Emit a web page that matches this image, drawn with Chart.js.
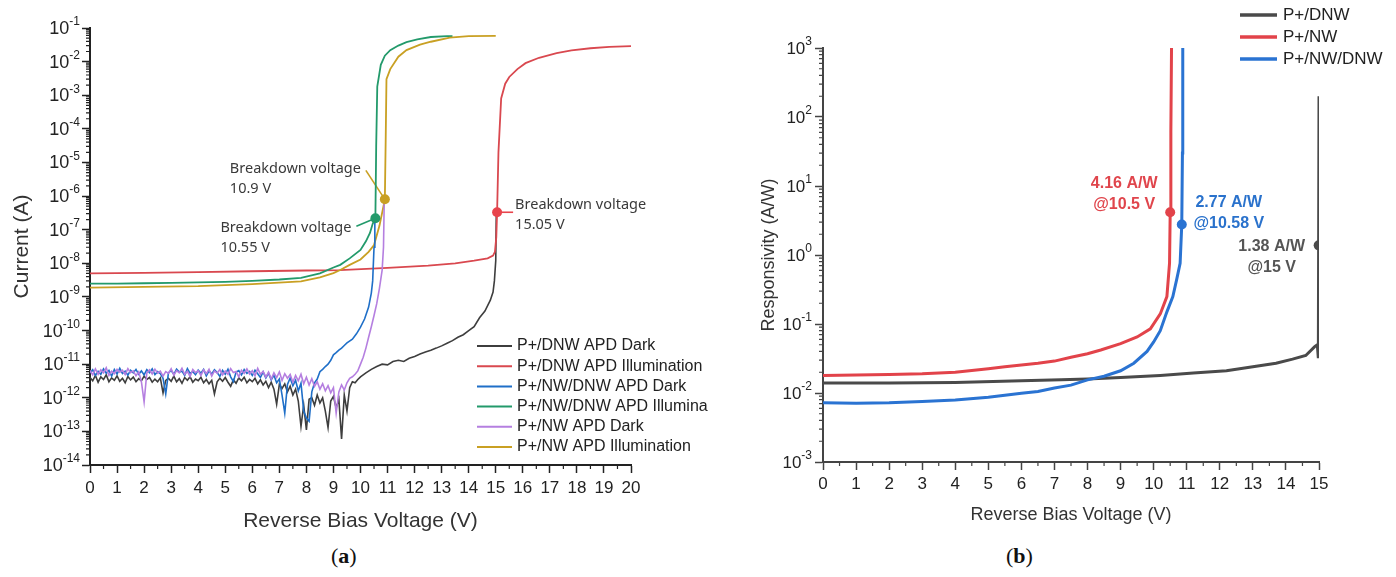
<!DOCTYPE html>
<html>
<head>
<meta charset="utf-8">
<script src="https://cdn.jsdelivr.net/npm/chart.js@4.4.1/dist/chart.umd.min.js"></script>
<style>
  body { margin: 0; background: #fff; width: 1396px; height: 577px; position: relative; overflow: hidden; }
  #wrapA { position: absolute; left: 0; top: 0; width: 708px; height: 540px; }
  #wrapB { position: absolute; left: 708px; top: 0; width: 688px; height: 540px; }
  .cap { position: absolute; top: 543px; font: 22px "Liberation Serif", serif; color: #111; }
</style>
</head>
<body>
<div id="wrapA"><canvas id="chartA" width="708" height="540"></canvas></div>
<div id="wrapB"><canvas id="chartB" width="688" height="540"></canvas></div>
<div class="cap" style="left:331px">(<b>a</b>)</div>
<div class="cap" style="left:1006px">(<b>b</b>)</div>
<script>
// ---------- (a) I-V curves, current in A ----------
const currentDecades = [1e-14,1e-13,1e-12,1e-11,1e-10,1e-9,1e-8,1e-7,1e-6,1e-5,1e-4,1e-3,1e-2,1e-1];

// shared voltage grid for the noisy dark-current region
const vNoise = [0,0.1,0.2,0.3,0.4,0.5,0.6,0.7,0.8,0.9,1,1.1,1.2,1.3,1.4,1.5,1.6,1.7,1.8,1.9,
  2,2.1,2.2,2.3,2.4,2.5,2.6,2.7,2.8,2.9,3,3.1,3.2,3.3,3.4,3.5,3.6,3.7,3.8,3.9,
  4,4.1,4.2,4.3,4.4,4.5,4.6,4.7,4.8,4.9,5,5.1,5.2,5.3,5.4,5.5,5.6,5.7,5.8,5.9,
  6,6.1,6.2,6.3,6.4,6.5,6.6,6.7,6.8,6.9,7,7.1,7.2,7.3,7.4,7.5,7.6,7.7,7.8,7.9,
  8,8.1,8.2,8.3,8.4,8.5,8.6,8.7,8.8,8.9,9,9.1,9.2,9.3,9.4,9.5];

// P+/DNW APD Dark
const iDnwDarkNoise = [
  4.0e-12,3.2e-12,4.6e-12,2.9e-12,4.2e-12,3.5e-12,4.8e-12,3.0e-12,3.9e-12,3.3e-12,
  4.5e-12,3.1e-12,3.8e-12,2.8e-12,4.3e-12,3.4e-12,4.1e-12,3.0e-12,3.7e-12,3.2e-12,
  4.4e-12,3.5e-12,4.0e-12,2.9e-12,3.6e-12,3.0e-12,3.9e-12,1.4e-12,3.3e-12,3.8e-12,
  3.1e-12,4.4e-12,3.0e-12,3.7e-12,2.7e-12,4.0e-12,3.3e-12,4.2e-12,2.9e-12,3.6e-12,
  3.2e-12,4.1e-12,2.8e-12,3.5e-12,2.6e-12,3.3e-12,1.3e-12,3.0e-12,3.8e-12,3.1e-12,
  4.0e-12,2.9e-12,2.2e-12,3.4e-12,2.7e-12,3.9e-12,3.2e-12,4.1e-12,2.8e-12,3.5e-12,
  3.0e-12,3.8e-12,2.6e-12,3.4e-12,2.4e-12,3.1e-12,2.0e-12,2.9e-12,1.8e-12,6.5e-13,
  2.5e-12,1.9e-12,2.6e-12,1.5e-12,2.2e-12,1.2e-12,1.8e-12,8.0e-13,1.4e-13,6.0e-13,
  1.1e-13,9.0e-13,1.0e-12,6.0e-13,1.2e-12,7.0e-13,1.0e-12,4.0e-13,1.3e-13,8.0e-13,
  1.1e-12,5.0e-13,9.0e-13,6.0e-14,1.2e-12,4.0e-13];
const vDnwDarkTail = [9.6,9.7,9.8,9.9,10,10.2,10.4,10.6,10.8,11,11.2,11.4,11.6,11.8,12,12.2,12.4,12.6,12.8,
  13,13.2,13.4,13.6,13.8,14,14.2,14.4,14.6,14.8,14.9,14.95,15,15.02];
const iDnwDarkTail = [2.0e-12,3.0e-12,2.8e-12,3.5e-12,4.2e-12,5.5e-12,7.0e-12,8.5e-12,1.0e-11,9.5e-12,1.2e-11,
  1.3e-11,1.2e-11,1.5e-11,1.7e-11,2.0e-11,2.3e-11,2.6e-11,3.0e-11,3.5e-11,4.2e-11,5.0e-11,6.3e-11,7.5e-11,
  1.0e-10,1.3e-10,2.4e-10,3.8e-10,8.0e-10,1.4e-9,3.0e-9,1.2e-8,3.0e-7];

// P+/DNW APD Illumination
const vDnwIll = [0,2,4,6,8,9.24,11,12.5,13.5,14.2,14.7,14.9,14.97,15.02,15.05,15.1,15.2,15.35,15.5,15.8,16.1,16.6,17.25,17.8,18.5,19.2,20];
const iDnwIll = [5.0e-9,5.2e-9,5.5e-9,5.8e-9,6.1e-9,6.3e-9,7.3e-9,8.5e-9,1.0e-8,1.2e-8,1.4e-8,1.7e-8,2.2e-8,6.0e-8,3.3e-7,
  2.0e-5,8.0e-4,2.2e-3,3.5e-3,6.0e-3,9.0e-3,1.3e-2,1.8e-2,2.15e-2,2.5e-2,2.75e-2,2.9e-2];

// P+/NW/DNW APD Dark
const iNwDnwDarkNoise = [
  5.5e-12,6.8e-12,4.6e-12,6.1e-12,5.0e-12,7.2e-12,5.4e-12,6.5e-12,4.4e-12,6.9e-12,
  5.1e-12,7.5e-12,5.3e-12,6.2e-12,4.7e-12,6.6e-12,5.5e-12,7.0e-12,5.0e-12,6.3e-12,
  4.8e-12,6.9e-12,5.6e-12,7.3e-12,4.9e-12,6.0e-12,5.2e-12,3.8e-12,1.3e-12,5.5e-12,
  6.5e-12,5.0e-12,7.1e-12,5.8e-12,6.2e-12,4.6e-12,7.4e-12,5.3e-12,6.0e-12,4.9e-12,
  6.7e-12,5.4e-12,7.0e-12,4.5e-12,6.3e-12,5.1e-12,6.8e-12,5.6e-12,4.3e-12,6.5e-12,
  5.0e-12,7.1e-12,4.2e-12,3.0e-12,5.8e-12,6.4e-12,4.8e-12,6.9e-12,5.3e-12,6.1e-12,
  4.6e-12,6.6e-12,5.2e-12,4.0e-12,5.9e-12,3.9e-12,5.4e-12,3.4e-12,4.7e-12,2.8e-12,
  3.6e-12,1.2e-12,3.5e-13,2.5e-12,3.9e-12,2.3e-12,3.3e-12,1.6e-12,2.7e-12,4.0e-13,
  2.5e-13,2.0e-13,1.5e-12,2.8e-12,3.6e-12,6.0e-12,7.0e-12,8.5e-12,1.0e-11,1.3e-11,
  1.9e-11,2.2e-11,2.6e-11,3.0e-11,3.6e-11,4.3e-11];
const vNwDnwDarkTail = [9.7,9.85,10,10.15,10.3,10.4,10.45,10.5,10.53];
const iNwDnwDarkTail = [5.5e-11,8.0e-11,1.26e-10,2.2e-10,5.0e-10,1.3e-9,3.0e-9,3.0e-8,2.0e-7];

// P+/NW/DNW APD Illumination
const vNwDnwIll = [0,1,2,3,4,5,6,7,7.8,8.5,9,9.25,9.6,10,10.2,10.35,10.45,10.55,10.58,10.62,10.75,10.9,11.1,11.4,11.7,12.1,12.6,13.2,13.4];
const iNwDnwIll = [2.5e-9,2.5e-9,2.55e-9,2.6e-9,2.7e-9,2.8e-9,3.0e-9,3.3e-9,3.7e-9,5.0e-9,7.5e-9,9.0e-9,1.4e-8,2.5e-8,4.5e-8,
  8.0e-8,1.5e-7,2.2e-7,3.0e-5,1.8e-3,8.0e-3,1.5e-2,2.2e-2,3.0e-2,3.8e-2,4.6e-2,5.4e-2,5.7e-2,5.7e-2];

// P+/NW APD Dark
const iNwDarkNoise = [
  6.5e-12,4.8e-12,7.2e-12,5.0e-12,6.8e-12,5.5e-12,7.8e-12,4.6e-12,6.2e-12,5.2e-12,
  7.0e-12,5.8e-12,6.6e-12,4.9e-12,7.4e-12,5.6e-12,6.3e-12,4.5e-12,5.9e-12,3.0e-12,
  7.5e-13,5.5e-12,6.8e-12,5.1e-12,7.1e-12,5.4e-12,6.2e-12,4.4e-12,6.0e-12,5.3e-12,
  7.3e-12,4.7e-12,6.4e-12,5.5e-12,7.6e-12,5.0e-12,6.1e-12,4.3e-12,6.9e-12,5.6e-12,
  6.4e-12,4.6e-12,6.8e-12,5.2e-12,7.0e-12,4.4e-12,6.3e-12,5.4e-12,6.9e-12,4.8e-12,
  6.2e-12,5.0e-12,7.4e-12,5.6e-12,6.0e-12,4.2e-12,6.6e-12,5.3e-12,7.2e-12,5.1e-12,
  6.4e-12,4.5e-12,7.5e-12,5.0e-12,6.1e-12,4.1e-12,5.8e-12,3.6e-12,5.5e-12,4.0e-12,
  5.9e-12,3.3e-12,5.2e-12,3.8e-12,4.9e-12,2.9e-12,4.6e-12,3.2e-12,5.0e-12,2.6e-12,
  4.1e-12,2.4e-12,3.7e-12,2.2e-12,3.0e-12,1.8e-12,2.6e-12,1.6e-12,2.3e-12,1.4e-12,
  2.0e-12,3.5e-13,1.5e-12,2.4e-12,1.7e-12,2.8e-12];
const vNwDarkTail = [9.6,9.7,9.8,9.9,10,10.1,10.2,10.3,10.4,10.5,10.6,10.7,10.8,10.85,10.88];
const iNwDarkTail = [3.8e-12,4.2e-12,5.0e-12,6.3e-12,1.0e-11,1.6e-11,3.0e-11,6.3e-11,1.3e-10,2.8e-10,6.3e-10,1.8e-9,6.3e-9,3.0e-8,1.0e-6];

// P+/NW APD Illumination
const vNwIll = [0,2,4,6,7.8,8.5,9,9.25,9.6,10,10.3,10.5,10.7,10.85,10.9,10.93,10.96,11.1,11.4,11.7,12.2,12.6,13.3,14,15];
const iNwIll = [1.9e-9,2.0e-9,2.1e-9,2.4e-9,2.9e-9,3.8e-9,5.1e-9,6.3e-9,9.0e-9,1.3e-8,2.2e-8,3.5e-8,1.3e-7,5.0e-7,8.0e-7,
  4.0e-5,3.0e-3,6.0e-3,1.4e-2,2.2e-2,3.2e-2,3.9e-2,5.2e-2,5.7e-2,5.8e-2];

// breakdown markers: gold, green, red
const markVoltA = [10.9, 10.55, 15.05];
const markCurrentA = [8e-7, 2.2e-7, 3.3e-7];

// ---------- (b) responsivity, A/W ----------
const respDecades = [1e-3,1e-2,1e-1,1,10,100,1000];
const vRespDnw = [0,2,4,6,7.2,8,9,10.2,11.2,12.2,13,13.7,14.2,14.6,14.87,14.95,14.98,15.0];
const rRespDnw = [0.014,0.014,0.0142,0.015,0.0155,0.016,0.0168,0.018,0.0195,0.021,0.024,0.027,0.031,0.035,0.047,0.05,0.032,200];
const vRespNw = [0,1,2,3,4,5,5.5,6,6.5,7,7.5,8,8.4,9,9.5,9.9,10.2,10.4,10.48,10.5,10.52,10.54];
const rRespNw = [0.018,0.0182,0.0186,0.019,0.02,0.0225,0.024,0.0255,0.027,0.029,0.033,0.037,0.042,0.052,0.065,0.085,0.14,0.25,0.76,4.16,60,1000];
const vRespNwDnw = [0,1,2,3,4,5,5.5,6,6.5,7,7.5,8,8.5,9,9.4,9.8,10,10.2,10.4,10.58,10.7,10.8,10.85,10.87,10.88];
const rRespNwDnw = [0.0072,0.0071,0.0072,0.0075,0.0079,0.0087,0.0093,0.0099,0.0105,0.0118,0.013,0.0155,0.0175,0.021,0.027,0.04,0.055,0.08,0.15,0.25,0.45,0.76,2.77,30,1000];
// markers: red, blue, gray
const markVoltB = [10.5, 10.85, 14.99];
const markRespB = [4.16, 2.77, 1.38];

const C = { gray: '#3e3e3e', red: '#d9484f', blue: '#1f6fc8', green: '#239a6b', purple: '#b57fe0', gold: '#c9a023' };
const CB = { gray: '#4a4a4a', red: '#e2434a', blue: '#2a73d2' };

Chart.defaults.font.family = '"Liberation Sans", Arial, sans-serif';

function pts(xs, ys) { return xs.map((x, i) => ({ x: x, y: ys[i] })); }

function line(label, data, color, order, width) {
  return { label: label, data: data, borderColor: color, backgroundColor: color, borderWidth: width,
           pointRadius: 0, pointHoverRadius: 0, tension: 0, order: order };
}
function marker(x, y, color) {
  return { data: [{ x: x, y: y }], isMarker: true, showLine: false, pointRadius: 5, pointHoverRadius: 5,
           pointBackgroundColor: color, pointBorderWidth: 0, order: 0 };
}

// small ticks between the labelled ones
const minorTicks = {
  id: 'minorTicks',
  afterDraw(chart, args, o) {
    const { ctx, scales: { x, y } } = chart;
    ctx.save();
    ctx.strokeStyle = o.color;
    ctx.lineWidth = 1.2;
    ctx.beginPath();
    for (let v = x.min + 0.5; v < x.max; v += 1) {
      const px = x.getPixelForValue(v);
      ctx.moveTo(px, x.top); ctx.lineTo(px, x.top + o.len);
    }
    const e0 = Math.round(Math.log10(y.min)), e1 = Math.round(Math.log10(y.max));
    for (let e = e0; e < e1; e++) {
      for (let k = 2; k <= 9; k++) {
        const py = y.getPixelForValue(k * Math.pow(10, e));
        ctx.moveTo(y.right, py); ctx.lineTo(y.right - o.len, py);
      }
    }
    ctx.stroke();
    ctx.restore();
  }
};

// "10" with a raised exponent for each decade tick of the log axis
const powLabels = {
  id: 'powLabels',
  afterDraw(chart, args, o) {
    const { ctx, scales: { y } } = chart;
    ctx.save();
    ctx.fillStyle = o.color;
    ctx.textBaseline = 'middle';
    ctx.textAlign = 'right';
    y.ticks.forEach(t => {
      const py = y.getPixelForValue(t.value);
      const exp = String(Math.round(Math.log10(t.value)));
      const xr = y.right - o.gap;
      ctx.font = o.supFont;
      const we = ctx.measureText(exp).width;
      ctx.fillText(exp, xr, py - o.rise);
      ctx.font = o.font;
      ctx.fillText('10', xr - we, py + o.drop);
    });
    ctx.restore();
  }
};

const lineLegend = {
  id: 'lineLegend',
  afterDraw(chart, args, o) {
    const ctx = chart.ctx;
    ctx.save();
    ctx.font = o.font;
    ctx.textBaseline = 'middle';
    ctx.textAlign = 'left';
    chart.data.datasets.filter(d => !d.isMarker).forEach((d, i) => {
      const y = o.y + i * o.rowH;
      ctx.strokeStyle = d.borderColor;
      ctx.lineWidth = o.lineW;
      ctx.beginPath(); ctx.moveTo(o.x, y); ctx.lineTo(o.x + o.len, y); ctx.stroke();
      ctx.fillStyle = o.color;
      ctx.fillText(d.label, o.x + o.len + o.gap, y);
    });
    ctx.restore();
  }
};

const callouts = {
  id: 'callouts',
  beforeDatasetsDraw(chart, args, o) {
    const ctx = chart.ctx;
    ctx.save();
    o.items.forEach(it => {
      if (!it.leader) return;
      const p = chart.getDatasetMeta(it.ds).data[0];
      ctx.strokeStyle = it.leaderColor; ctx.lineWidth = 1.6;
      ctx.beginPath(); ctx.moveTo(p.x, p.y); ctx.lineTo(p.x + it.leader[0], p.y + it.leader[1]); ctx.stroke();
    });
    ctx.restore();
  },
  afterDraw(chart, args, o) {
    const ctx = chart.ctx;
    ctx.save();
    ctx.font = o.font;
    ctx.textBaseline = 'middle';
    o.items.forEach(it => {
      const p = chart.getDatasetMeta(it.ds).data[0];
      ctx.fillStyle = it.color;
      ctx.textAlign = it.align;
      it.lines.forEach((t, j) => ctx.fillText(t, p.x + it.dx, p.y + it.dy + j * o.lineH));
    });
    ctx.restore();
  }
};

function axes(o) {
  const ax = o.axisColor;
  return {
    x: {
      type: 'linear', min: 0, max: o.xMax,
      afterFit: s => { s.height = o.xHeight; },
      ticks: { stepSize: 1, autoSkip: false, maxRotation: 0, font: { size: o.xTickSize }, color: '#222', padding: o.xPad },
      grid: { drawOnChartArea: false, tickLength: o.tickLen, color: ax, tickWidth: 1.5 },
      border: { color: ax, width: 2 },
      title: { display: true, text: 'Reverse Bias Voltage (V)', color: '#333', font: { size: o.xTitleSize },
               padding: { top: 0, bottom: o.xTitlePad } }
    },
    y: {
      type: 'logarithmic', min: o.yTicks[0], max: o.yTicks[o.yTicks.length - 1],
      afterBuildTicks: s => { s.ticks = o.yTicks.map(v => ({ value: v })); },
      afterFit: s => { s.width = o.yWidth; },
      ticks: { display: false },
      grid: { drawOnChartArea: false, tickLength: o.tickLen, color: ax, tickWidth: 1.5 },
      border: { color: ax, width: 2 },
      title: { display: true, text: o.yTitle, color: '#333', font: { size: o.yTitleSize },
               padding: { top: o.yTitlePad, bottom: 0 } }
    }
  };
}

// ---- chart (a) ----
const dsA = [
  line('P+/DNW APD Dark', pts(vNoise.concat(vDnwDarkTail), iDnwDarkNoise.concat(iDnwDarkTail)), C.gray, 6, 1.6),
  line('P+/DNW APD Illumination', pts(vDnwIll, iDnwIll), C.red, 5, 1.8),
  line('P+/NW/DNW APD Dark', pts(vNoise.concat(vNwDnwDarkTail), iNwDnwDarkNoise.concat(iNwDnwDarkTail)), C.blue, 2, 1.6),
  line('P+/NW/DNW APD Illumination', pts(vNwDnwIll, iNwDnwIll), C.green, 4, 1.8),
  line('P+/NW APD Dark', pts(vNoise.concat(vNwDarkTail), iNwDarkNoise.concat(iNwDarkTail)), C.purple, 1, 1.6),
  line('P+/NW APD Illumination', pts(vNwIll, iNwIll), C.gold, 3, 1.8),
  marker(markVoltA[0], markCurrentA[0], C.gold),
  marker(markVoltA[1], markCurrentA[1], C.green),
  marker(markVoltA[2], markCurrentA[2], '#e8444c')
];

new Chart(document.getElementById('chartA'), {
  type: 'line',
  data: { datasets: dsA },
  options: {
    responsive: false, animation: false, events: [],
    layout: { padding: { left: 0, top: 28, right: 77, bottom: 0 } },
    scales: axes({ xMax: 20, xHeight: 75, xTickSize: 17, xPad: 5, tickLen: 8, xTitleSize: 21, xTitlePad: 6,
                   yTicks: currentDecades, yWidth: 90, yTitle: 'Current (A)',
                   yTitleSize: 21, yTitlePad: 10, axisColor: '#222' }),
    plugins: {
      legend: { display: false }, tooltip: { enabled: false },
      minorTicks: { color: '#222', len: 4 },
      powLabels: { color: '#222', font: '18px "Liberation Sans"', supFont: '12px "Liberation Sans"', gap: 10, rise: 6, drop: 1 },
      lineLegend: { x: 477, y: 346, rowH: 20.2, len: 35, gap: 5, lineW: 2, font: '16px "Liberation Sans"', color: '#222' },
      callouts: {
        font: '14.5px "Noto Sans"', lineH: 19.5,
        items: [
          { ds: 6, lines: ['Breakdown voltage', '10.9 V'], dx: -155, dy: -30, align: 'left', color: '#3a3a3a', leader: [-19, -29], leaderColor: C.gold },
          { ds: 7, lines: ['Breakdown voltage', '10.55 V'], dx: -155, dy: 10, align: 'left', color: '#3a3a3a', leader: [-19, 8], leaderColor: C.green },
          { ds: 8, lines: ['Breakdown voltage', '15.05 V'], dx: 18, dy: -7, align: 'left', color: '#3a3a3a', leader: [16, 0], leaderColor: '#e8444c' }
        ]
      }
    }
  },
  plugins: [minorTicks, powLabels, lineLegend, callouts]
});

// ---- chart (b) ----
const dsB = [
  line('P+/DNW', pts(vRespDnw, rRespDnw), CB.gray, 3, 3),
  line('P+/NW', pts(vRespNw, rRespNw), CB.red, 1, 3),
  line('P+/NW/DNW', pts(vRespNwDnw, rRespNwDnw), CB.blue, 2, 3),
  marker(markVoltB[0], markRespB[0], CB.red),
  marker(markVoltB[1], markRespB[1], CB.blue),
  marker(markVoltB[2], markRespB[2], CB.gray)
];

new Chart(document.getElementById('chartB'), {
  type: 'line',
  data: { datasets: dsB },
  options: {
    responsive: false, animation: false, events: [],
    layout: { padding: { left: 0, top: 48, right: 77, bottom: 0 } },
    scales: axes({ xMax: 15, xHeight: 78, xTickSize: 17, xPad: 4, tickLen: 8, xTitleSize: 18, xTitlePad: 14,
                   yTicks: respDecades, yWidth: 115, yTitle: 'Responsivity (A/W)',
                   yTitleSize: 18, yTitlePad: 50, axisColor: '#444' }),
    plugins: {
      legend: { display: false }, tooltip: { enabled: false },
      minorTicks: { color: '#444', len: 4 },
      powLabels: { color: '#222', font: '17px "Liberation Sans"', supFont: '12px "Liberation Sans"', gap: 11, rise: 6, drop: 1 },
      lineLegend: { x: 532, y: 15, rowH: 22, len: 37, gap: 6, lineW: 3.5, font: '17px "Liberation Sans"', color: '#222' },
      callouts: {
        font: 'bold 16px "Liberation Sans"', lineH: 21,
        items: [
          { ds: 3, lines: ['4.16 A/W', '@10.5 V'], dx: -46, dy: -29, align: 'center', color: '#e0454c' },
          { ds: 4, lines: ['2.77 A/W', '@10.58 V'], dx: 47, dy: -22, align: 'center', color: '#2a72cc' },
          { ds: 5, lines: ['1.38 A/W', '@15 V'], dx: -47, dy: 1, align: 'center', color: '#555' }
        ]
      }
    }
  },
  plugins: [minorTicks, powLabels, lineLegend, callouts]
});
</script>
</body>
</html>
